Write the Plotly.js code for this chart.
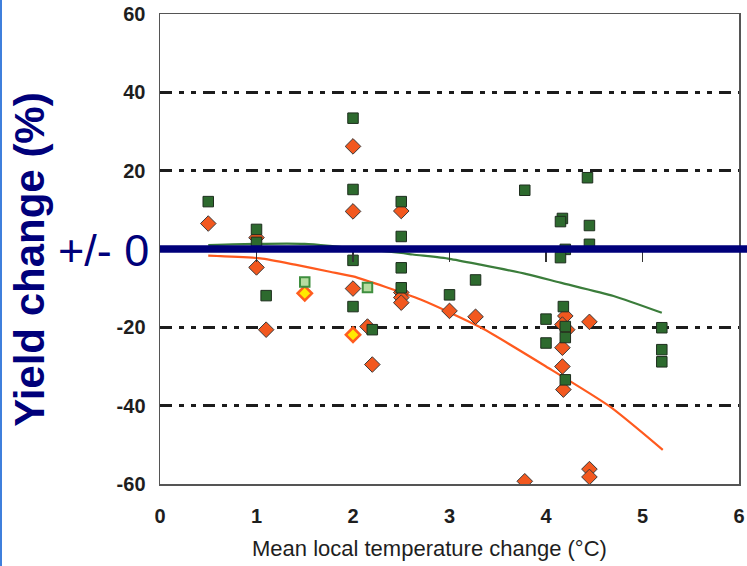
<!DOCTYPE html>
<html>
<head>
<meta charset="utf-8">
<script src="https://cdn.plot.ly/plotly-3.0.1.min.js"></script>
<style>
  html, body { margin: 0; padding: 0; background: #ffffff; }
  #wrap { position: relative; width: 747px; height: 566px; }
  #chart { width: 747px; height: 566px; }
  #edge { position: absolute; left: 0; top: 0; width: 2px; height: 566px; background: #3f7fdc; }
</style>
</head>
<body>
<div id="wrap">
  <div id="chart"></div>
  <div id="edge"></div>
</div>
<script>
// Dark green squares (study results)
var greenX = [0.5, 1.0, 1.0, 1.1, 2.0, 2.0, 2.0, 2.0, 2.2, 2.5, 2.5, 2.5, 2.5, 3.0, 3.27, 3.78,
              4.43, 4.17, 4.15, 4.45, 4.45, 4.2, 4.15, 4.18, 4.0, 4.2, 4.2, 4.0, 4.2, 5.2, 5.2, 5.2];
var greenY = [12.1, 5.0, 1.7, -11.9, 33.4, 15.2, -2.9, -14.7, -20.6, 12.1, 3.2, -4.8, -9.9, -11.7, -7.9, 15.0,
              18.2, 7.8, 7.0, 6.0, 1.2, -0.1, -2.2, -14.7, -17.9, -19.8, -22.6, -24.0, -33.4, -20.1, -25.7, -28.8];

// Light green squares
var lightGreenX = [1.5, 2.15];
var lightGreenY = [-8.4, -9.8];

// Orange diamonds
var orangeX = [0.5, 1.0, 1.0, 1.1, 2.0, 2.0, 2.0, 2.15, 2.2, 2.5, 2.5, 2.5, 2.5, 3.0, 3.27, 3.78,
               4.45, 4.45, 4.45, 4.2, 4.17, 4.22, 4.17, 4.17, 4.18];
var orangeY = [6.5, 2.9, -4.7, -20.6, 26.2, 9.6, -10.1, -19.8, -29.5, 9.7, -11.1, -12.4, -13.7, -15.8, -17.3, -59.3,
               -56.2, -58.2, -18.6, -17.1, -19.3, -20.6, -25.2, -30.0, -35.9];

// Yellow diamonds
var yellowX = [1.5, 2.0];
var yellowY = [-11.3, -21.9];

// Fitted curves
var greenFitX = [0.5, 1.0, 1.5, 1.76, 2.0, 2.5, 2.62, 3.0, 3.32, 3.8, 4.15, 4.7, 5.2];
var greenFitY = [1.0, 1.3, 1.3, 0.8, 0.2, -1.0, -1.4, -2.5, -4.0, -6.4, -8.6, -12.0, -16.3];
var orangeFitX = [0.5, 1.04, 1.4, 1.76, 2.0, 2.7, 3.32, 4.0, 4.66, 5.21];
var orangeFitY = [-1.7, -2.4, -4.0, -5.8, -7.0, -12.9, -20.0, -30.0, -40.2, -51.3];

// Axis ticks
var xTicks = [0, 1, 2, 3, 4, 5, 6];
var xInnerTicks = [1, 2, 3, 4, 5];
var yTicks = [-60, -40, -20, 20, 40, 60];
var yTickText = ['-60', '-40', '-20', '20', '40', '60'];

var traces = [
  {x: orangeFitX, y: orangeFitY, type: 'scatter', mode: 'lines', line: {shape: 'spline', smoothing: 0.6, color: '#ff5a1e', width: 2.2},
   hoverinfo: 'skip', showlegend: false},
  {x: greenFitX, y: greenFitY, type: 'scatter', mode: 'lines', line: {shape: 'spline', smoothing: 0.6, color: '#3b7d3b', width: 2.2},
   hoverinfo: 'skip', showlegend: false},
  {x: orangeX, y: orangeY, type: 'scatter', mode: 'markers',
   marker: {symbol: 'diamond', size: 12, color: '#f2581f', line: {color: '#3a3a3a', width: 1}}, showlegend: false},
  {x: yellowX, y: yellowY, type: 'scatter', mode: 'markers',
   marker: {symbol: 'diamond', size: 11, color: '#ffea00', line: {color: '#ff5d1f', width: 2.5}}, showlegend: false},
  {x: greenX, y: greenY, type: 'scatter', mode: 'markers',
   marker: {symbol: 'square', size: 10.5, color: '#2d6a2e', line: {color: '#1e2e1e', width: 1}}, showlegend: false},
  {x: lightGreenX, y: lightGreenY, type: 'scatter', mode: 'markers',
   marker: {symbol: 'square', size: 9.5, color: '#b7dca0', line: {color: '#3f8f3f', width: 2}}, showlegend: false},
  {x: [], y: [], xaxis: 'x2', type: 'scatter', mode: 'markers', hoverinfo: 'skip', showlegend: false}
];

var tickFont = {family: 'Liberation Sans, Arial, sans-serif', size: 20, color: '#1e1e1e', weight: 'bold'};

var layout = {
  width: 747, height: 566,
  margin: {l: 160, r: 8, t: 14, b: 82},
  paper_bgcolor: '#ffffff', plot_bgcolor: '#ffffff',
  showlegend: false,
  xaxis: {
    range: [0, 6], tickmode: 'array', tickvals: xTicks,
    showline: true, mirror: true, linecolor: '#555555', linewidth: 1.5,
    ticks: '', showgrid: false, zeroline: false,
    tickfont: tickFont, ticklabelstandoff: 13
  },
  xaxis2: {
    range: [0, 6], overlaying: 'x', anchor: 'free', position: 0.5, side: 'bottom',
    tickmode: 'array', tickvals: xInnerTicks, ticks: 'outside', ticklen: 12, tickwidth: 1.5, tickcolor: '#333333',
    showticklabels: false, showline: false, showgrid: false, zeroline: false
  },
  yaxis: {
    range: [-60, 60], tickmode: 'array', tickvals: yTicks, ticktext: yTickText,
    showline: true, mirror: true, linecolor: '#555555', linewidth: 1.5,
    ticks: '', zeroline: false,
    showgrid: true, gridcolor: '#1c1c1c', gridwidth: 3, griddash: '12px,7px,5px,7px,5px,7px',
    tickfont: tickFont, ticklabelstandoff: 9
  },
  shapes: [
    {type: 'line', xref: 'paper', x0: 0, x1: 587 / 579, yref: 'y', y0: 0, y1: 0,
     line: {color: '#00007a', width: 7.5}, layer: 'above'}
  ],
  annotations: [
    {text: '+/- 0', xref: 'paper', x: -9 / 579, xanchor: 'right', yref: 'y', y: -0.5, yanchor: 'middle',
     showarrow: false, font: {family: 'Liberation Sans, Arial, sans-serif', size: 45, color: '#00007a'}},
    {text: 'Yield change (%)', xref: 'paper', x: -130 / 579, xanchor: 'center', yref: 'paper', y: 0.477, yanchor: 'middle',
     textangle: -90, showarrow: false,
     font: {family: 'Liberation Sans, Arial, sans-serif', size: 42, color: '#00007a', weight: 'bold'}},
    {text: 'Mean local temperature change (°C)', xref: 'paper', x: 0.466, xanchor: 'center', yref: 'paper', y: -0.137, yanchor: 'middle',
     showarrow: false, font: {family: 'Liberation Sans, Arial, sans-serif', size: 22, color: '#1e1e1e'}}
  ]
};

Plotly.newPlot('chart', traces, layout, {staticPlot: true, displayModeBar: false});
</script>
</body>
</html>
